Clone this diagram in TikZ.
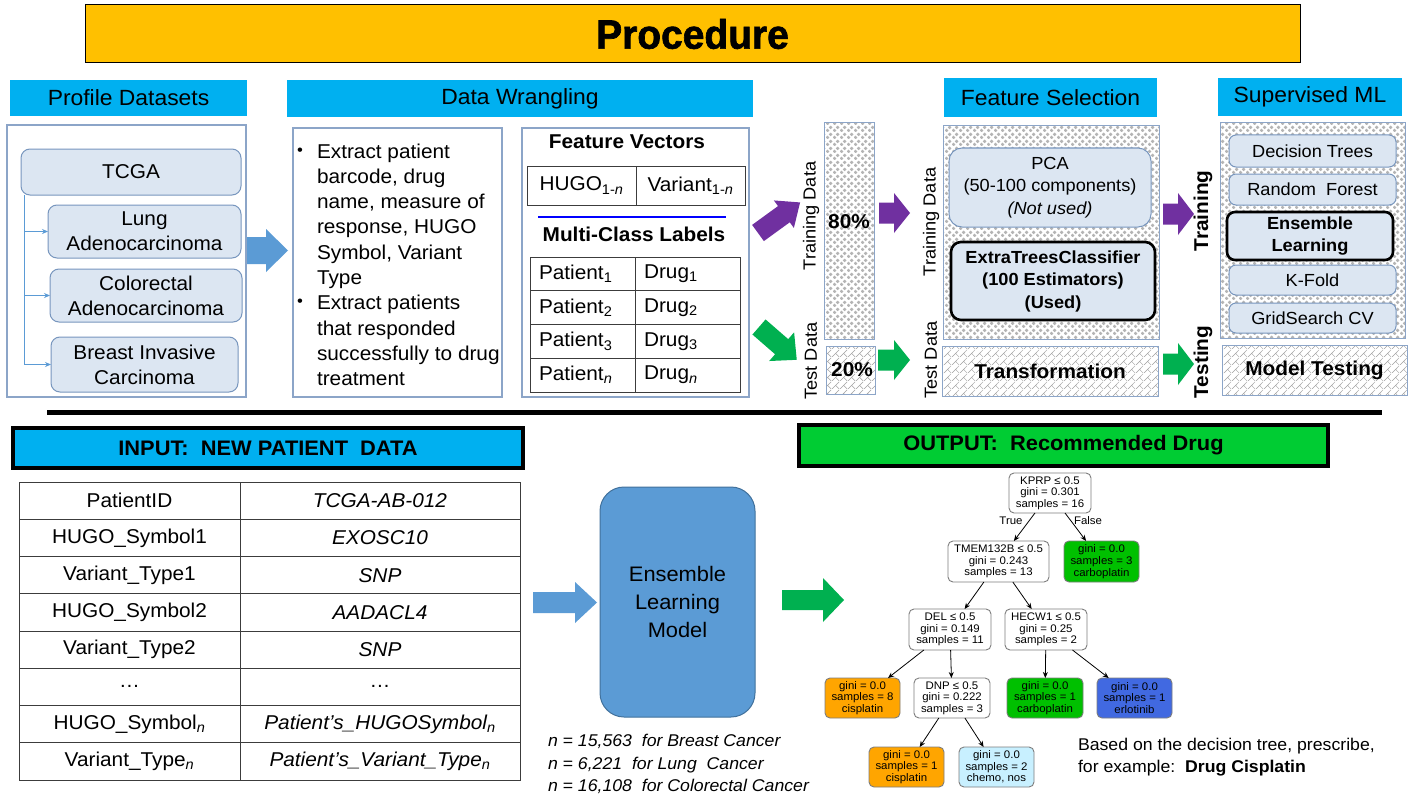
\documentclass[tikz,border=0pt]{standalone}
\usepackage{fontspec}
\setmainfont{Liberation Sans}[FakeStretch=1.04]
\newfontfamily\heavyfont{Liberation Sans}[UprightFont={* Bold}, FakeBold=1.6, FakeStretch=0.95]
\usetikzlibrary{patterns.meta,arrows.meta}

\definecolor{gold}{RGB}{255,192,0}
\definecolor{hdrcyan}{RGB}{0,176,240}
\definecolor{boxfill}{RGB}{220,230,242}
\definecolor{boxedge}{RGB}{120,150,190}
\definecolor{frameedge}{RGB}{140,165,200}
\definecolor{purp}{RGB}{112,48,160}
\definecolor{grn}{RGB}{0,176,80}
\definecolor{arrowblue}{RGB}{91,155,213}
\definecolor{modeledge}{RGB}{65,113,156}
\definecolor{outgreen}{RGB}{0,204,51}
\definecolor{treeorange}{RGB}{255,165,0}
\definecolor{treegreen}{RGB}{0,192,0}
\definecolor{treeblue}{RGB}{65,105,225}
\definecolor{treecyan}{RGB}{200,240,255}
\definecolor{treeedge}{RGB}{125,125,125}
\definecolor{tablegray}{RGB}{60,60,60}
\definecolor{dotgray}{RGB}{180,180,180}
\definecolor{brickgray}{RGB}{160,160,160}

\newcommand{\fsz}[2]{\fontsize{#1}{#2}\selectfont}

% grey dot lattice used for the training-data panels
\tikzdeclarepattern{
  name=pptdots,
  type=uncolored,
  bottom left={(0pt,0pt)},
  top right={(7pt,7pt)},
  tile size={(7pt,7pt)},
  code={
    \fill (1.75pt,1.75pt) circle [radius=2.05pt];
    \fill (5.25pt,5.25pt) circle [radius=2.05pt];
  }
}
% diagonal brick hatching used for the test-data panels
\tikzdeclarepattern{
  name=pptbrick,
  type=uncolored,
  bottom left={(0pt,0pt)},
  top right={(8pt,8pt)},
  tile size={(8pt,8pt)},
  code={
    \draw[line width=0.5pt] (0pt,0pt) -- (8pt,8pt);
    \draw[line width=0.5pt] (8pt,0pt) -- (4pt,4pt);
  }
}

\tikzset{
  % block arrow: length, shaft width, head width, head length (tail centre at origin)
  pics/barrow/.style n args={4}{code={
    \path[pic actions] (0,-#2/2) -- (#1-#4,-#2/2) -- (#1-#4,-#3/2) -- (#1,0)
      -- (#1-#4,#3/2) -- (#1-#4,#2/2) -- (0,#2/2) -- cycle;
  }},
}

\begin{document}
\begin{tikzpicture}[x=1pt,y=-1pt,
  every node/.style={inner sep=0pt, outer sep=0pt},
  sz/.style 2 args={minimum width=#1, minimum height=#2},
  t20/.style={font=\fsz{20}{25}},
  t17/.style={font=\fsz{17.5}{22.5}},
  b20/.style={font=\fsz{20}{24}\bfseries},
  banner/.style={fill=gold, draw=black, line width=1pt},
  header/.style={fill=hdrcyan, font=\fsz{22}{26}},
  frame/.style={draw=frameedge, line width=1.1pt},
  softbox/.style={rounded corners=9pt, draw=boxedge, fill=boxfill, line width=1pt},
  keybox/.style={rounded corners=10pt, draw=black, fill=boxfill, line width=2.6pt},
  dotpanel/.style={pattern={pptdots}, pattern color=dotgray, draw=frameedge, line width=1pt},
  brickpanel/.style={pattern={pptbrick}, pattern color=brickgray, draw=frameedge, line width=1pt},
  cell/.style={draw=tablegray, line width=1pt, font=\fsz{20}{24}},
  lcell/.style={cell, text width=87pt, inner xsep=9pt, align=left},
  rotlbl/.style={font=\fsz{17.5}{21}, rotate=90},
  rotbold/.style={font=\fsz{20}{24}\bfseries, rotate=90},
  branch/.style={draw=arrowblue, line width=1pt, -{Stealth[length=6pt,width=5pt]}},
  tnode/.style={rounded corners=5pt, draw=treeedge, line width=0.9pt, align=center,
                font=\fsz{11}{11.7}, fill=white},
  tedge/.style={line width=0.8pt, -{Stealth[length=6pt,width=5pt]}},
  outhead/.style={draw=black, line width=3.5pt, font=\fsz{21}{25}\bfseries},
]
\useasboundingbox (0,0) rectangle (1413,797);
\fill[white] (0,0) rectangle (1413,797);

% ---------- title ----------
\node[banner, sz={1215}{58}] (proc) at (692.5,34) {\heavyfont\fsz{41}{44}Procedure};

% ---------- section headers ----------
\node[header, sz={237}{36}] (hprof) at (128.5,98) {Profile Datasets};
\node[header, sz={466}{37}] (hwrang) at (520,98.5) {Data Wrangling};
\node[header, sz={213}{39}] (hfeat) at (1050.5,97.5) {Feature Selection};
\node[header, sz={184}{38}] (hsup) at (1310,97) {Supervised ML};

% ---------- profile datasets ----------
\node[frame, sz={239}{272}] (pframe) at (126.5,261) {};
\node[softbox, t20, sz={220}{46}] (tcga) at (131,172) {TCGA};
\node[softbox, t20, sz={193}{53}, align=center] (lung) at (144.5,231.5) {Lung\\Adenocarcinoma};
\node[softbox, t20, sz={192}{53}, align=center] (colo) at (146,295.5) {Colorectal\\Adenocarcinoma};
\node[softbox, t20, sz={187}{55}, align=center] (brst) at (144.5,364.5) {Breast Invasive\\Carcinoma};
\coordinate (trunk) at (24,195);
\draw[branch] (trunk) |- (lung.west);
\draw[branch] (trunk) |- (colo.west);
\draw[branch] (trunk) |- (brst.west);

\pic[fill=arrowblue] at (247,250.5) {barrow={41}{27}{43}{22}};

% ---------- data wrangling ----------
\node[frame, sz={209}{269}] (steps) at (397.5,262.5) {};
\node[font=\fsz{16}{18}] (bul1) at (300,152) {\textbullet};
\node[font=\fsz{16}{18}] (bul2) at (300,303) {\textbullet};
\foreach \ln [count=\i] in {{Extract patient},{barcode, drug},{name, measure of},{response, HUGO},
    {Symbol, Variant},{Type},{Extract patients},{that responded},{successfully to drug},{treatment}}
  \node[t20, anchor=base west] (step\i) at (317,{158+25.3*(\i-1)}) {\ln};

\node[frame, sz={227}{269}] (vecs) at (635.5,262.5) {};
\node[b20] (fvt) at (627,142) {Feature Vectors};
\node[cell, sz={109}{39}] (fvh) at (581.5,185.5) {HUGO\textsubscript{1-\textit{n}}};
\node[cell, sz={109}{39}] (fvv) at (690.5,185.5) {Variant\textsubscript{1-\textit{n}}};
\coordinate (rulea) at (538,217);
\coordinate (ruleb) at (726,217);
\draw[blue, line width=2.5pt] (rulea) -- (ruleb);
\node[b20] (mcl) at (634,234) {Multi-Class Labels};
\foreach \k [count=\i] in {1,2,3,\textit{n}} {
  \node[lcell, minimum height=33.75pt] (pat\i) at (582.5,{257+33.75*(\i-0.5)}) {Patient\textsubscript{\k}};
  \node[lcell, minimum height=33.75pt] (drug\i) at (687.5,{257+33.75*(\i-0.5)}) {Drug\textsubscript{\k}};
}

% ---------- train / test split ----------
\pic[fill=purp, rotate=36] at (758,233) {barrow={52}{20}{34}{20}};
\pic[fill=grn, rotate=-41] at (759,327) {barrow={50}{20}{38}{20}};

\node[dotpanel, sz={50}{216}] (train) at (849,231) {};
\node[b20] (p80) at (849,222) {80\%};
\node[brickpanel, sz={49}{48}] (test) at (850.5,370) {};
\node[b20] (p20) at (852,370) {20\%};
\node[rotlbl] (trlA) at (811,216) {Training Data};
\node[rotlbl] (telA) at (811,361) {Test Data};

\pic[fill=purp] at (879,213) {barrow={31}{21}{40}{16}};
\pic[fill=grn] at (878,360) {barrow={32}{21}{40}{16}};

% ---------- feature selection ----------
\node[rotlbl] (trlB) at (931,222) {Training Data};
\node[rotlbl] (telB) at (931,360) {Test Data};
\node[dotpanel, sz={216}{213}] (fsframe) at (1051,232.5) {};
\node[softbox, rounded corners=13pt, t17, sz={202}{79}, align=center] (pca) at (1050,187.5)
  {PCA\\(50-100 components)\\\textit{(Not used)}};
\node[keybox, sz={204}{78}, align=center, font=\fsz{17.5}{22.5}\bfseries] (etc) at (1053,281)
  {ExtraTreesClassifier\\(100 Estimators)\\(Used)};
\node[brickpanel, b20, sz={216}{50}] (trans) at (1050,371) {Transformation};

\pic[fill=purp] at (1163,214) {barrow={31}{21}{42}{16}};
\pic[fill=grn] at (1163,364) {barrow={31}{21}{42}{16}};

% ---------- supervised ML ----------
\node[rotbold] (trn) at (1203,211) {Training};
\node[rotbold] (tst) at (1203,362) {Testing};
\node[dotpanel, sz={185}{215}] (smlframe) at (1312.5,230.5) {};
\node[softbox, rounded corners=7pt, t17, sz={167}{32}] (dt) at (1312.5,151) {Decision Trees};
\node[softbox, rounded corners=7pt, t17, sz={167}{31}] (rf) at (1312.5,189.5) {Random\ \ Forest};
\node[keybox, rounded corners=8pt, sz={166}{48}, align=center, font=\fsz{17.5}{21.5}\bfseries] (el) at (1310,236)
  {Ensemble\\Learning};
\node[softbox, rounded corners=7pt, t17, sz={167}{30}] (kf) at (1312.5,280) {K-Fold};
\node[softbox, rounded corners=7pt, t17, sz={167}{30}] (gs) at (1312.5,318) {GridSearch CV};
\node[brickpanel, b20, sz={185}{50}] (mt) at (1314.5,370) {Model Testing};

% ---------- divider ----------
\coordinate (divl) at (47,412);
\coordinate (divr) at (1382,412);
\draw[line width=5pt] (divl) -- (divr);

% ---------- input ----------
\node[outhead, fill=hdrcyan, sz={510}{40}] (inhdr) at (268,448) {INPUT:\ \ NEW PATIENT\ \ DATA};
\foreach \a/\b [count=\i] in {PatientID/\textit{TCGA-AB-012},
    HUGO\_Symbol1/\textit{EXOSC10},
    Variant\_Type1/\textit{SNP},
    HUGO\_Symbol2/\textit{AADACL4},
    Variant\_Type2/\textit{SNP},
    \ldots/\ldots,
    HUGO\_Symbol\textsubscript{\textit{n}}/\textit{Patient’s\_HUGOSymbol\textsubscript{n}},
    Variant\_Type\textsubscript{\textit{n}}/\textit{Patient’s\_Variant\_Type\textsubscript{n}}} {
  \node[cell, sz={221}{37.25}] (inl\i) at (129.5,{482+37.25*(\i-0.5)}) {\a};
  \node[cell, sz={280}{37.25}] (inr\i) at (380,{482+37.25*(\i-0.5)}) {\b};
}

% ---------- model ----------
\pic[fill=arrowblue] at (533,602.5) {barrow={64}{21}{41}{22}};
\node[fill=arrowblue, draw=modeledge, line width=1pt, rounded corners=24pt, sz={155}{230},
      align=center, font=\fsz{21}{28}] (model) at (677.5,602) {Ensemble\\Learning\\Model};
\pic[fill=grn] at (782,600) {barrow={62}{20}{44}{21}};

\node[anchor=base west, font=\fsz{17}{20}\itshape] (nA) at (548,746.5) {n = 15,563\ \ for Breast Cancer};
\node[anchor=base west, font=\fsz{17}{20}\itshape] (nB) at (548,769) {n = 6,221\ \ for Lung\ \ Cancer};
\node[anchor=base west, font=\fsz{17}{20}\itshape] (nC) at (548,791.5) {n = 16,108\ \ for Colorectal Cancer};

% ---------- output ----------
\node[outhead, fill=outgreen, sz={529}{41}] (outhdr) at (1063.5,445.5) {OUTPUT:\ \ Recommended Drug};

\node[tnode, sz={82}{40}] (kprp) at (1050,493) {KPRP ≤ 0.5\\gini = 0.301\\samples = 16};
\node[tnode, sz={101}{41}] (tmem) at (998.5,561.5) {TMEM132B ≤ 0.5\\gini = 0.243\\samples = 13};
\node[tnode, fill=treegreen, sz={75}{41}] (carbA) at (1101.5,561.5) {gini = 0.0\\samples = 3\\carboplatin};
\node[tnode, sz={82}{41}] (del) at (950,629.5) {DEL ≤ 0.5\\gini = 0.149\\samples = 11};
\node[tnode, sz={82}{41}] (hecw) at (1046,629.5) {HECW1 ≤ 0.5\\gini = 0.25\\samples = 2};
\node[tnode, fill=treeorange, sz={75}{40}] (cisA) at (862.5,698) {gini = 0.0\\samples = 8\\cisplatin};
\node[tnode, sz={76}{40}] (dnp) at (952,698) {DNP ≤ 0.5\\gini = 0.222\\samples = 3};
\node[tnode, fill=treegreen, sz={76}{40}] (carbB) at (1045,698) {gini = 0.0\\samples = 1\\carboplatin};
\node[tnode, fill=treeblue, sz={75}{40}] (erlo) at (1134.5,698) {gini = 0.0\\samples = 1\\erlotinib};
\node[tnode, fill=treeorange, sz={75}{40}] (cisB) at (906.5,767) {gini = 0.0\\samples = 1\\cisplatin};
\node[tnode, fill=treecyan, sz={75}{40}] (chemo) at (996.5,767) {gini = 0.0\\samples = 2\\chemo, nos};

\draw[tedge] (kprp) -- (tmem);
\draw[tedge] (kprp) -- (carbA);
\draw[tedge] (tmem) -- (del);
\draw[tedge] (tmem) -- (hecw);
\draw[tedge] (del) -- (cisA);
\draw[tedge] (del) -- (dnp);
\draw[tedge] (hecw) -- (carbB);
\draw[tedge] (hecw) -- (erlo);
\draw[tedge] (dnp) -- (cisB);
\draw[tedge] (dnp) -- (chemo);
\node[font=\fsz{11}{12}] (ltrue) at (1011,521) {True};
\node[font=\fsz{11}{12}] (lfalse) at (1088,521) {False};

\node[anchor=base west, font=\fsz{17}{20}] (noteA) at (1078,750) {Based on the decision tree, prescribe,};
\node[anchor=base west, font=\fsz{17}{20}] (noteB) at (1078,772.3) {for example:\ \ \textbf{Drug Cisplatin}};
\end{tikzpicture}
\end{document}
